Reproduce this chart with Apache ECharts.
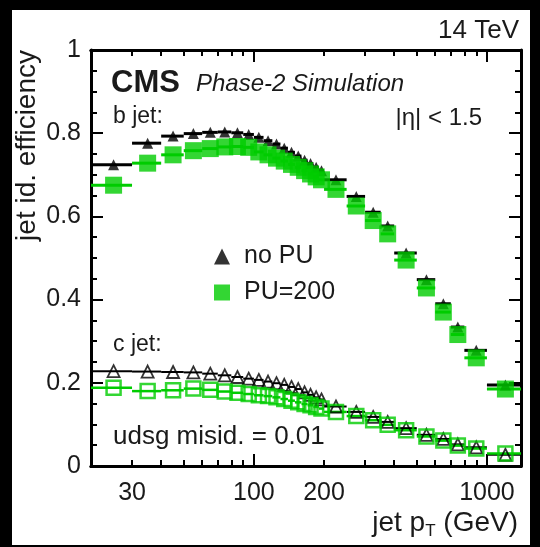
<!DOCTYPE html>
<html><head><meta charset="utf-8">
<script src="https://cdn.jsdelivr.net/npm/echarts@6/dist/echarts.min.js"></script>
<style>html,body{margin:0;padding:0;background:#000}#c{width:540px;height:547px}</style>
</head><body><div id="c"></div>
<script>
// bins in jet pT (GeV)
const binLow  = [20,30,40,50,60,70,80,90,100,110,120,130,140,150,160,170,180,190,200,250,300,350,400,500,600,700,800,1000];
const binHigh = [30,40,50,60,70,80,90,100,110,120,130,140,150,160,170,180,190,200,250,300,350,400,500,600,700,800,1000,1400];
const binCenter = [25,35,45,55,65,75,85,95,105,115,125,135,145,155,165,175,185,195,225,275,325,375,450,550,650,750,900,1200];
// b-jet efficiency
const bNoPU  = [0.724,0.776,0.793,0.799,0.802,0.803,0.801,0.797,0.790,0.782,0.774,0.764,0.754,0.745,0.735,0.727,0.718,0.710,0.688,0.648,0.610,0.577,0.512,0.448,0.390,0.334,0.278,0.195];
const bPU200 = [0.675,0.728,0.748,0.758,0.763,0.767,0.768,0.766,0.755,0.748,0.740,0.733,0.725,0.718,0.710,0.702,0.695,0.688,0.665,0.625,0.590,0.558,0.495,0.428,0.370,0.316,0.260,0.185];
// c-jet efficiency
const cNoPU  = [0.228,0.227,0.226,0.225,0.222,0.218,0.214,0.210,0.207,0.203,0.199,0.195,0.190,0.185,0.177,0.171,0.165,0.160,0.143,0.130,0.118,0.106,0.091,0.075,0.065,0.052,0.045,0.027];
const cPU200 = [0.188,0.180,0.182,0.186,0.183,0.179,0.176,0.173,0.170,0.168,0.165,0.161,0.157,0.153,0.149,0.146,0.142,0.138,0.130,0.120,0.110,0.099,0.086,0.071,0.061,0.049,0.042,0.030];
// axis labels / ticks
const xLabelValues = [30,100,200,1000];
const xMinorTicks = [30,40,50,60,70,80,90,200,300,400,500,600,700,800,900];
const xMajorTicks = [100,1000];
const xMin = 20, xMax = 1400;

const L = Math.log10;
const FONT = '"Liberation Sans", Arial, Helvetica, sans-serif';
const GREEN = '#00cc00';
const TXT = '#1a1a1a';

function pts(vals){ return binCenter.map((c,i)=>[L(c), vals[i]]); }
function bars(vals){ return binCenter.map((c,i)=>[L(binLow[i]), L(binHigh[i]), vals[i]]); }
function barRenderer(color, w){
  return function(params, api){
    const a = api.coord([api.value(0), api.value(2)]);
    const b = api.coord([api.value(1), api.value(2)]);
    return {type:'line', shape:{x1:a[0],y1:a[1],x2:b[0],y2:b[1]}, style:{stroke:color,lineWidth:w}};
  };
}
function errSeries(name, vals, color, w){
  return {type:'custom', name:name, renderItem:barRenderer(color, w), data:bars(vals), encode:{x:[0,1],y:2}, silent:true, clip:true};
}

function xAxisDef(pos, ticks, len, labels){
  return {
    type:'value', position:pos, min:L(xMin), max:L(xMax), gridIndex:0,
    axisLine:{show:true, onZero:false, lineStyle:{color:'#000', width:3}},
    axisTick:{show:true, inside:true, length:len, customValues:ticks.map(L), lineStyle:{color:'#000', width:2}},
    axisLabel: labels ? {show:true, customValues:xLabelValues.map(L), formatter:v=>String(Math.round(Math.pow(10,v))), fontFamily:FONT, fontSize:25, color:TXT, margin:15} : {show:false},
    splitLine:{show:false}
  };
}
function yAxisDef(pos, labels){
  return {
    type:'value', position:pos, min:0, max:1, interval:0.2,
    axisLine:{show:true, onZero:false, lineStyle:{color:'#000', width:3}},
    axisTick:{show:true, inside:true, length:12, lineStyle:{color:'#000', width:2}},
    minorTick:{show:true, splitNumber:4, length:6, lineStyle:{color:'#000', width:2}},
    axisLabel: labels ? {show:true, formatter:v=>(v===0?'0':v===1?'1':v.toFixed(1)), fontFamily:FONT, fontSize:25, color:TXT, margin:10} : {show:false},
    splitLine:{show:false}
  };
}

const chart = echarts.init(document.getElementById('c'), null, {renderer:'canvas'});
chart.setOption({
  backgroundColor:'#000',
  animation:false,
  grid:{left:91, right:19, top:50, bottom:81, show:false},
  xAxis:[
    xAxisDef('bottom', xMinorTicks, 6, true),
    xAxisDef('bottom', xMajorTicks, 12, false),
    xAxisDef('top', xMinorTicks, 6, false),
    xAxisDef('top', xMajorTicks, 12, false)
  ],
  yAxis:[ yAxisDef('left', true), yAxisDef('right', false) ],
  legend:{
    orient:'vertical', left:209, top:239, itemWidth:16, itemHeight:16, itemGap:11,
    textStyle:{fontFamily:FONT, fontSize:25, color:TXT, padding:[0,0,0,9]},
    data:[{name:'no PU', icon:'triangle'},{name:'PU=200', icon:'rect'}],
    selectedMode:false
  },
  graphic:[
    {type:'rect', z:-100, shape:{x:12, y:10, width:518, height:535}, style:{fill:'#fff'}, silent:true},
    {type:'text', x:519, y:31, style:{text:'14 TeV', font:'26px '+FONT, fill:TXT, align:'right', verticalAlign:'middle'}},
    {type:'text', x:111, y:83, style:{text:'CMS', font:'bold 31px '+FONT, fill:TXT, align:'left', verticalAlign:'middle'}},
    {type:'text', x:196, y:84, style:{text:'Phase-2 Simulation', font:'italic 24px '+FONT, fill:TXT, align:'left', verticalAlign:'middle'}},
    {type:'text', x:113, y:117, style:{text:'b jet:', font:'23px '+FONT, fill:TXT, align:'left', verticalAlign:'middle'}},
    {type:'text', x:482, y:118, style:{text:'|η| < 1.5', font:'24px '+FONT, fill:TXT, align:'right', verticalAlign:'middle'}},
    {type:'text', x:113, y:345, style:{text:'c jet:', font:'23px '+FONT, fill:TXT, align:'left', verticalAlign:'middle'}},
    {type:'text', x:113, y:437, style:{text:'udsg misid. = 0.01', font:'26px '+FONT, fill:TXT, align:'left', verticalAlign:'middle'}},
    {type:'text', x:27, y:50, rotation:Math.PI/2, style:{text:'jet id. efficiency', font:'28px '+FONT, fill:TXT, align:'right', verticalAlign:'middle'}},
    {type:'text', x:518, y:523, style:{text:'{a|jet p}{s|T}{a| (GeV)}', fill:TXT, align:'right', verticalAlign:'middle',
      rich:{a:{font:'28px '+FONT, fill:TXT}, s:{font:'17px '+FONT, fill:TXT, padding:[16,0,0,0]}}}}
  ],
  series:[
    errSeries('c no PU bars', cNoPU, '#000', 2),
    {type:'scatter', name:'c no PU', data:pts(cNoPU), symbol:'triangle', symbolSize:12,
      itemStyle:{color:'rgba(255,255,255,0)', borderColor:'#000', borderWidth:1.8}},
    errSeries('c PU bars', cPU200, GREEN, 2.5),
    {type:'scatter', name:'c PU=200', data:pts(cPU200), symbol:'rect', symbolSize:14,
      itemStyle:{color:'rgba(255,255,255,0)', borderColor:GREEN, borderWidth:2.5}},
    errSeries('b no PU bars', bNoPU, '#000', 3),
    {type:'scatter', name:'no PU', data:pts(bNoPU), symbol:'triangle', symbolSize:11, itemStyle:{color:'#000'}},
    errSeries('b PU bars', bPU200, GREEN, 3),
    {type:'scatter', name:'PU=200', data:pts(bPU200), symbol:'rect', symbolSize:17, itemStyle:{color:GREEN}}
  ]
});
</script></body></html>
